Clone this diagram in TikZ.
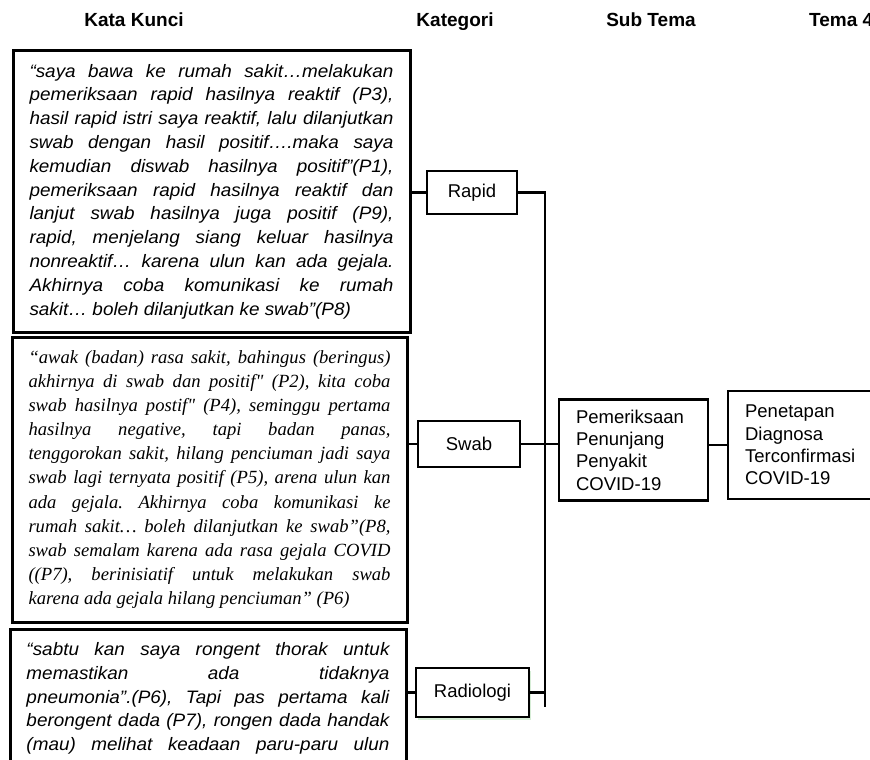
\documentclass[tikz,border=0pt]{standalone}
\usepackage{fontspec}
\setmainfont{Liberation Sans}
\newfontfamily\kwfont[FakeStretch=1.05]{Liberation Sans}
\newfontfamily\timesfont{Liberation Serif}
\usetikzlibrary{shadows}
\frenchspacing
\tolerance=10000 \hbadness=10000
\hyphenpenalty=10000 \exhyphenpenalty=10000

\begin{document}
\begin{tikzpicture}[x=1pt, y=-1pt,
    head/.style={font=\bfseries\fontsize{19}{22}\selectfont, inner sep=0pt},
    kwbox/.style={draw, line width=3pt, align=justify, inner sep=0pt},
    katbox/.style={draw, line width=2.5pt, fill=white, inner sep=0pt, font=\fontsize{18.5}{22}\selectfont},
    temabox/.style={draw, line width=2.2pt, fill=white, align=left, inner xsep=17pt, inner ysep=0pt, font=\fontsize{18.5}{22.3}\selectfont},
    link/.style={line width=2.4pt}]
    \useasboundingbox (0,0) rectangle (870,760);
    \clip (0,0) rectangle (870,760);

    % Column heads
    \node[head, anchor=base] (hKata) at (134,27) {Kata Kunci};
    \node[head, anchor=base] (hKat) at (455,27) {Kategori};
    \node[head, anchor=base] (hSub) at (651,27) {Sub Tema};
    \node[head, anchor=base west] (hTema) at (809,27) {Tema 4};

    % Kata kunci
    \node[kwbox, minimum width=397pt, minimum height=281pt, text width=364pt,
          font=\kwfont\itshape\fontsize{18}{23.8}\selectfont] (kwRapid) at (211.5,191.5)
    {“saya bawa ke rumah sakit…melakukan\linebreak
     pemeriksaan rapid hasilnya reaktif (P3),\linebreak
     hasil rapid istri saya reaktif, lalu dilanjutkan\linebreak
     swab dengan hasil positif….maka saya\linebreak
     kemudian diswab hasilnya positif”(P1),\linebreak
     pemeriksaan rapid hasilnya reaktif dan\linebreak
     lanjut swab hasilnya juga positif (P9),\linebreak
     rapid, menjelang siang keluar hasilnya\linebreak
     nonreaktif… karena ulun kan ada gejala.\linebreak
     Akhirnya coba komunikasi ke rumah\linebreak
     sakit… boleh dilanjutkan ke swab”(P8)};
    \node[kwbox, minimum width=395pt, minimum height=285pt, text width=362pt,
          font=\timesfont\itshape\fontsize{18.6}{24.1}\selectfont] (kwSwab) at (209.5,479.5)
    {“awak (badan) rasa sakit, bahingus (beringus)\linebreak
     akhirnya di swab dan positif" (P2), kita coba\linebreak
     swab hasilnya postif" (P4), seminggu pertama\linebreak
     hasilnya negative, tapi badan panas,\linebreak
     tenggorokan sakit, hilang penciuman jadi saya\linebreak
     swab lagi ternyata positif (P5), arena ulun kan\linebreak
     ada gejala. Akhirnya coba komunikasi ke\linebreak
     rumah sakit… boleh dilanjutkan ke swab”(P8,\linebreak
     swab semalam karena ada rasa gejala COVID\linebreak
     ((P7), berinisiatif untuk melakukan swab\linebreak
     karena ada gejala hilang penciuman” (P6)};
    \node[kwbox, anchor=north, minimum width=396pt, text width=363pt, inner ysep=13pt,
          font=\kwfont\itshape\fontsize{18}{23.8}\selectfont] (kwRadio) at (208,628)
    {“sabtu kan saya rongent thorak untuk\linebreak
     memastikan ada tidaknya\linebreak
     pneumonia”.(P6), Tapi pas pertama kali\linebreak
     berongent dada (P7), rongen dada handak\linebreak
     (mau) melihat keadaan paru-paru ulun\linebreak};

    % Kategori
    \node[katbox, minimum width=90pt, minimum height=43pt] (rapid) at (472,192.5) {Rapid};
    \node[katbox, minimum width=102pt, minimum height=46pt] (swab) at (469,444) {Swab};
    \node[katbox, minimum width=113pt, minimum height=49pt,
          drop shadow={shadow xshift=1.5pt, shadow yshift=-2.5pt, fill=black!45!green!40, opacity=0.4}]
          (radio) at (472.5,692.5) {Radiologi};

    % Sub tema and tema
    \node[temabox, minimum height=101pt, text width=115pt] (subtema) at (633.5,450)
          {Pemeriksaan\\Penunjang\\Penyakit\\COVID-19};
    \node[temabox, anchor=west, minimum height=108pt, text width=140pt] (tema) at (727,445)
          {Penetapan\\Diagnosa\\Terconfirmasi\\COVID-19};

    % Connectors
    \coordinate (trunkEnd) at (545,707);
    \draw[link] (kwRapid.east |- rapid.west) -- (rapid.west);
    \draw[link] (kwSwab.east |- swab.west) -- (swab.west);
    \draw[link] (kwRadio.east |- radio.west) -- (radio.west);
    \draw[link] (rapid.east) -| (trunkEnd);
    \draw[link] (swab.east) -- (swab.east -| subtema.west);
    \draw[link] (radio.east) -- (radio.east -| trunkEnd);
    \draw[link] (subtema.east |- tema.west) -- (tema.west);
\end{tikzpicture}
\end{document}
